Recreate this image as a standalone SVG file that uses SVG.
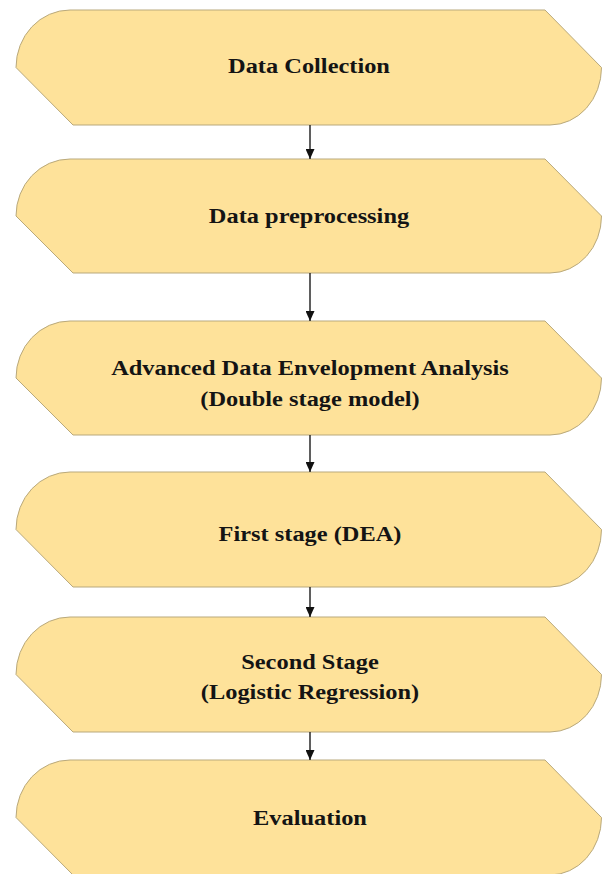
<svg xmlns="http://www.w3.org/2000/svg" width="602" height="874" viewBox="0 0 602 874">
<style>
.box{fill:#FEE29A;stroke:#B9A97C;stroke-width:1}
.lbl{font-family:"Liberation Serif","Times New Roman",serif;font-weight:bold;font-size:20px;fill:#141414;text-anchor:middle}
.conn{stroke:#1a1a1a;stroke-width:1.4;fill:none}
</style>
<defs>
<marker id="ah" viewBox="0 0 10 9" refX="10" refY="4.5" markerWidth="10" markerHeight="9" markerUnits="userSpaceOnUse" orient="auto">
<path d="M0,0 L10,4.5 L0,9 Z" fill="#111"/>
</marker>
</defs>
<rect width="602" height="874" fill="#ffffff"/>
<g id="n1">
<path class="box" d="M70,10 A54,57.5 0 0 0 16,67.5 L73,125 L550,125 A51.5,57.5 0 0 0 601.5,67.5 L545,10 Z"/>
<text class="lbl" transform="translate(309,73) scale(1.22,1)">Data Collection</text>
</g>
<g id="n2">
<path class="box" d="M70,159 A54,57 0 0 0 16,216 L73,273 L550,273 A51.5,57 0 0 0 601.5,216 L545,159 Z"/>
<text class="lbl" transform="translate(309,223) scale(1.22,1)">Data preprocessing</text>
</g>
<g id="n3">
<path class="box" d="M70,321 A54,57 0 0 0 16,378 L73,435 L550,435 A51.5,57 0 0 0 601.5,378 L545,321 Z"/>
<text class="lbl" transform="translate(310,375) scale(1.22,1)">Advanced Data Envelopment Analysis</text>
<text class="lbl" transform="translate(310,406) scale(1.22,1)">(Double stage model)</text>
</g>
<g id="n4">
<path class="box" d="M70,472 A54,57.5 0 0 0 16,529.5 L73,587 L550,587 A51.5,57.5 0 0 0 601.5,529.5 L545,472 Z"/>
<text class="lbl" transform="translate(310,541) scale(1.22,1)">First stage (DEA)</text>
</g>
<g id="n5">
<path class="box" d="M70,617 A54,57.5 0 0 0 16,674.5 L73,732 L550,732 A51.5,57.5 0 0 0 601.5,674.5 L545,617 Z"/>
<text class="lbl" transform="translate(310,669) scale(1.22,1)">Second Stage</text>
<text class="lbl" transform="translate(310,699) scale(1.22,1)">(Logistic Regression)</text>
</g>
<g id="n6">
<path class="box" d="M70,760 A54,57.5 0 0 0 16,817.5 L73,875 L550,875 A51.5,57.5 0 0 0 601.5,817.5 L545,760 Z"/>
<text class="lbl" transform="translate(310,825) scale(1.22,1)">Evaluation</text>
</g>
<g id="connectors">
<line class="conn" x1="310" y1="125" x2="310" y2="159" marker-end="url(#ah)"/>
<line class="conn" x1="310" y1="273" x2="310" y2="321" marker-end="url(#ah)"/>
<line class="conn" x1="310" y1="435" x2="310" y2="472" marker-end="url(#ah)"/>
<line class="conn" x1="310" y1="587" x2="310" y2="617" marker-end="url(#ah)"/>
<line class="conn" x1="310" y1="732" x2="310" y2="760" marker-end="url(#ah)"/>
</g>
</svg>
